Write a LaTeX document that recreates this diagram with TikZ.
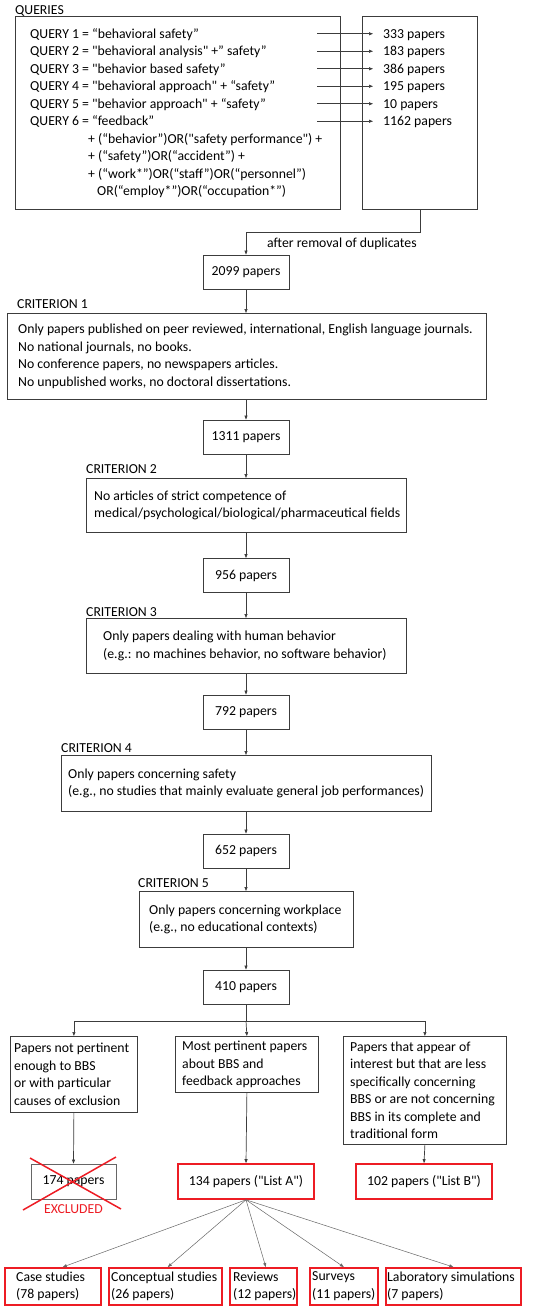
\documentclass[tikz,border=0pt]{standalone}
\usepackage{fontspec}
\setmainfont{Carlito}[Ligatures=TeXOff]
\usetikzlibrary{arrows.meta}
\definecolor{exred}{RGB}{237,28,36}
\definecolor{linegray}{RGB}{60,60,60}
\begin{document}
\begin{tikzpicture}[x=1pt,y=-1pt,
  font=\fontsize{13.75}{17.5}\selectfont,
  box/.style={draw=linegray, line width=0.8pt, inner sep=0pt},
  num/.style={box, minimum width=86pt, minimum height=34pt},
  redbox/.style={draw=exred, line width=1.6pt, inner sep=0pt, minimum height=35pt},
  lbl/.style={anchor=base west, inner sep=0pt},
  txt/.style={anchor=west, align=left, inner sep=0pt},
  arr/.style={draw=linegray, line width=0.7pt, -{Triangle[length=4pt,width=3pt]}},
  fan/.style={draw=black!60, line width=0.5pt, -{Triangle[length=4pt,width=3pt]}},
  plain/.style={draw=linegray, line width=0.7pt}
]
\useasboundingbox (0,0) rectangle (550,1309);

% ---------- queries ----------
\node[lbl] (qlbl) at (15,14) {QUERIES};
\node[box, anchor=north west, minimum width=325pt, minimum height=193pt] (qbox) at (15,16) {};
\node[txt] (qtxt) at ([xshift=15pt]qbox.west) {%
QUERY 1 = “behavioral safety”\\
QUERY 2 = "behavioral analysis" +” safety”\\
QUERY 3 = "behavior based safety”\\
QUERY 4 = "behavioral approach" + “safety”\\
QUERY 5 = "behavior approach" + “safety”\\
QUERY 6 = “feedback”\\
\hspace*{58pt}+ (“behavior”)OR("safety performance") +\\
\hspace*{58pt}+ (“safety”)OR(“accident”) +\\
\hspace*{58pt}+ (“work*”)OR(“staff”)OR(“personnel”)\\
\hspace*{67pt}OR(“employ*”)OR(“occupation*”)};
\node[box, anchor=north west, minimum width=115pt, minimum height=193pt] (rbox) at (362,16) {};

\foreach \i/\v in {1/333,2/183,3/386,4/195,5/10,6/1162}{
  \pgfmathsetmacro{\yy}{33.75+17.5*(\i-1)+4.5}
  \node[lbl] (r\i) at (383,\yy) {\v\ papers};
  \pgfmathsetmacro{\ya}{33.75+17.5*(\i-1)}
  \coordinate (qa\i) at (317,\ya);
  \draw[arr] (qa\i) -- (qa\i -| 373,0);
}

% ---------- main chain ----------
\node[num] (n2099) at (246,272) {2099 papers};
\draw[arr] (rbox.south) -- ++(0,23) -| (n2099.north);
\node[lbl] (dup) at (267,247) {after removal of duplicates};

\node[lbl] (c1l) at (17,308) {CRITERION 1};
\node[box, anchor=north west, minimum width=479pt, minimum height=86pt] (c1) at (7,313) {};
\node[txt] (c1t) at ([xshift=11pt]c1.west) {%
Only papers published on peer reviewed, international, English language journals.\\
No national journals, no books.\\
No conference papers, no newspapers articles.\\
No unpublished works, no doctoral dissertations.};
\draw[arr] (n2099.south) -- (c1.north -| n2099.south);

\node[num] (n1311) at (246,437) {1311 papers};
\draw[arr] (c1.south -| n1311.north) -- (n1311.north);

\node[lbl] (c2l) at (86,473) {CRITERION 2};
\node[box, anchor=north west, minimum width=320pt, minimum height=54pt] (c2) at (86,478) {};
\node[txt] (c2t) at ([xshift=8pt]c2.west) {%
No articles of strict competence of\\
medical/psychological/biological/pharmaceutical fields};
\draw[arr] (n1311.south) -- (c2.north -| n1311.south);

\node[num] (n956) at (246,575.5) {956 papers};
\draw[arr] (c2.south -| n956.north) -- (n956.north);

\node[lbl] (c3l) at (86,616) {CRITERION 3};
\node[box, anchor=north west, minimum width=320pt, minimum height=55pt] (c3) at (86,618) {};
\node[txt] (c3t) at ([xshift=17pt]c3.west) {%
Only papers dealing with human behavior\\
(e.g.: no machines behavior, no software behavior)};
\draw[arr] (n956.south) -- (c3.north -| n956.south);

\node[num] (n792) at (246,712) {792 papers};
\draw[arr] (c3.south -| n792.north) -- (n792.north);

\node[lbl] (c4l) at (61,752) {CRITERION 4};
\node[box, anchor=north west, minimum width=370pt, minimum height=56pt] (c4) at (61,755) {};
\node[txt] (c4t) at ([xshift=7pt]c4.west) {%
Only papers concerning safety\\
(e.g., no studies that mainly evaluate general job performances)};
\draw[arr] (n792.south) -- (c4.north -| n792.south);

\node[num] (n652) at (246,851) {652 papers};
\draw[arr] (c4.south -| n652.north) -- (n652.north);

\node[lbl] (c5l) at (138,887) {CRITERION 5};
\node[box, anchor=north west, minimum width=214pt, minimum height=56pt] (c5) at (139,891) {};
\node[txt] (c5t) at ([xshift=10pt]c5.west) {%
Only papers concerning workplace\\
(e.g., no educational contexts)};
\draw[arr] (n652.south) -- (c5.north -| n652.south);

\node[num] (n410) at (246,987) {410 papers};
\draw[arr] (c5.south -| n410.north) -- (n410.north);

% ---------- branches ----------
\node[box, anchor=north west, minimum width=127pt, minimum height=76pt] (bl) at (10,1036) {};
\node[txt] (blt) at ([xshift=4pt]bl.west) {%
Papers not pertinent\\
enough to BBS\\
or with particular\\
causes of exclusion};
\node[box, anchor=north west, minimum width=143pt, minimum height=56pt] (bm) at (175,1036) {};
\node[txt] (bmt) at ([xshift=7pt]bm.west) {%
Most pertinent papers\\
about BBS and\\
feedback approaches};
\node[box, anchor=north west, minimum width=163pt, minimum height=108pt] (bR) at (343,1036) {};
\node[txt] (bRt) at ([xshift=7pt]bR.west) {%
Papers that appear of\\
interest but that are less\\
specifically concerning\\
BBS or are not concerning\\
BBS in its complete and\\
traditional form};

\coordinate (br) at (246,1021);
\draw[plain] (n410.south) -- (br);
\draw[arr] (br) -| (bl.north);
\draw[arr] (br) -| (bR.north);
\draw[arr] (br) -- (bm.north);

% ---------- results ----------
\node[box, draw=black!60, minimum width=85pt, minimum height=35pt] (ex) at (73.5,1181.5) {174 papers};
\draw[exred, line width=1.5pt] (30,1158) -- (121,1209);
\draw[exred, line width=1.5pt] (23,1210) -- (116,1157);
\node[lbl, text=exred] (exl) at (73.5,1213) [anchor=base] {EXCLUDED};
\draw[arr] (bl.south) -- (ex.north);

\node[redbox, minimum width=136pt] (la) at (246,1181.5) {134 papers ("List A")};
\node[redbox, minimum width=136pt] (lb) at (424,1181.5) {102 papers ("List B")};
\draw[arr] (bm.south) -- (la.north);
\draw[arr] (bR.south) -- (lb.north);

% ---------- bottom ----------
\node[redbox, anchor=north west, minimum width=96pt, minimum height=37pt] (cs) at (4,1267) {};
\node[txt] (cst) at ([xshift=12pt]cs.west) {Case studies\\(78 papers)};
\node[redbox, anchor=north west, minimum width=113pt, minimum height=37pt] (cc) at (108,1267) {};
\node[txt] (cct) at ([xshift=3pt]cc.west) {Conceptual studies\\(26 papers)};
\node[redbox, anchor=north west, minimum width=67pt, minimum height=37pt] (rv) at (229,1267) {};
\node[txt] (rvt) at ([xshift=4pt]rv.west) {Reviews\\(12 papers)};
\node[redbox, anchor=north west, minimum width=68pt, minimum height=37pt] (sv) at (309,1267) {};
\node[txt] (svt) at ([xshift=3pt]sv.west) {Surveys\\(11 papers)};
\node[redbox, anchor=north west, minimum width=135pt, minimum height=37pt] (lab) at (385,1267) {};
\node[txt] (labt) at ([xshift=2pt]lab.west) {Laboratory simulations\\(7 papers)};

\draw[fan] (la.south) -- ([xshift=10pt]cs.north);
\draw[fan] (la.south) -- ([xshift=2.5pt]cc.north);
\draw[fan] (la.south) -- ([xshift=2.5pt]rv.north);
\draw[fan] (la.south) -- (sv.north);
\draw[fan] (la.south) -- (lab.north);
\end{tikzpicture}
\end{document}
